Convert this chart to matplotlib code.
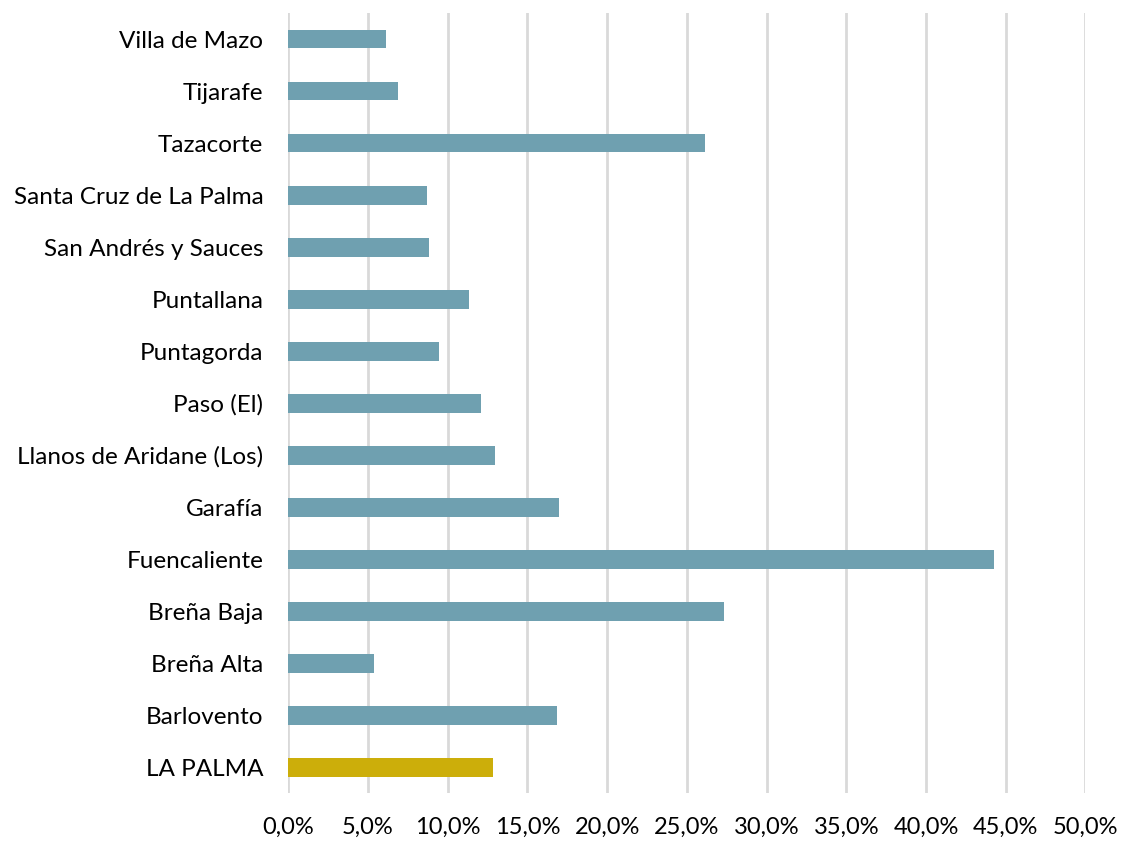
import matplotlib
matplotlib.use("Agg")
import matplotlib.pyplot as plt
from matplotlib.ticker import FuncFormatter, MultipleLocator

plt.rcParams['font.family'] = ['Lato', 'DejaVu Sans']

municipios = ['LA PALMA', 'Barlovento', 'Breña Alta', 'Breña Baja', 'Fuencaliente',
              'Garafía', 'Llanos de Aridane (Los)', 'Paso (El)', 'Puntagorda',
              'Puntallana', 'San Andrés y Sauces', 'Santa Cruz de La Palma',
              'Tazacorte', 'Tijarafe', 'Villa de Mazo']
valores = [12.84, 16.86, 5.36, 27.33, 44.25,
           17.0, 12.97, 12.07, 9.43,
           11.34, 8.81, 8.70,
           26.16, 6.90, 6.11]

teal = '#6FA0B0'
gold = '#CCAE0A'
colores = [gold] + [teal] * (len(municipios) - 1)

fig = plt.figure(figsize=(11.21, 8.41), dpi=100)
ax = fig.add_axes([0.2572, 0.0565, 0.7110, 0.928])

ax.barh(range(len(municipios)), valores, height=0.36, color=colores)

ax.set_xlim(0, 50)
ax.set_ylim(-0.5, len(municipios) - 0.5)
ax.xaxis.set_major_locator(MultipleLocator(5))
ax.xaxis.set_major_formatter(FuncFormatter(lambda v, p: f'{v:.1f}%'.replace('.', ',')))
ax.set_yticks(range(len(municipios)))
ax.set_yticklabels(municipios)

ax.grid(axis='x', color='#D9D9D9', linewidth=2)
ax.set_axisbelow(True)
for s in ax.spines.values():
    s.set_visible(False)
ax.tick_params(axis='both', length=0, colors='black')
ax.tick_params(axis='y', pad=18, labelsize=17.5)
ax.tick_params(axis='x', pad=17, labelsize=17)

fig.savefig('out.png', dpi=100, facecolor='white')
